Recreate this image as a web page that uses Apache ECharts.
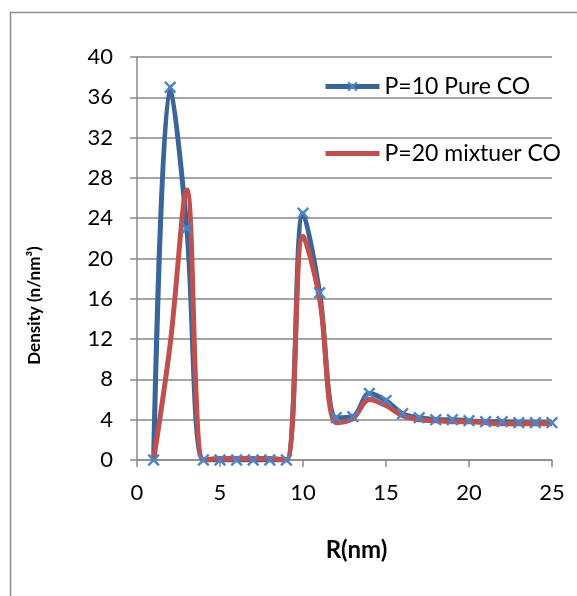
<!DOCTYPE html>
<html>
<head>
    <meta charset="utf-8"/>
    <title>Density vs R</title>
    <script src="https://cdn.jsdelivr.net/npm/echarts@6/dist/echarts.min.js"></script>
    <style>
        html, body { margin: 0; padding: 0; background: #fff; }
        #main { width: 577px; height: 596px; }
    </style>
</head>
<body>
<div id="main"></div>
<script>
    // data
    var rValues = [1, 2, 3, 4, 5, 6, 7, 8, 9, 10, 11, 12, 13, 14, 15, 16, 17, 18, 19, 20, 21, 22, 23, 24, 25];
    var pureCO = [0, 37, 23, 0, 0, 0, 0, 0, 0, 24.5, 16.6, 4.2, 4.3, 6.6, 5.9, 4.6, 4.2, 4.0, 4.0, 3.9, 3.8, 3.8, 3.7, 3.7, 3.7];
    var mixCO = [0, 11.5, 26.8, 0, 0.15, 0.15, 0.15, 0.15, 0, 22.2, 16.0, 3.7, 4.1, 6.0, 5.4, 4.4, 4.0, 3.9, 3.8, 3.8, 3.7, 3.6, 3.6, 3.6, 3.6];
    var seriesNames = ['P=10 Pure CO', 'P=20 mixtuer CO'];

    function pairs(ys) {
        return rValues.map(function (x, i) { return [x, ys[i]]; });
    }

    var font = 'Lato, "Open Sans", sans-serif';
    var gridColor = '#898989';
    // x marker: a plus turned 45 degrees
    var crossPath = 'path://M4.2,0L5.8,0L5.8,4.2L10,4.2L10,5.8L5.8,5.8L5.8,10L4.2,10L4.2,5.8L0,5.8L0,4.2L4.2,4.2Z';

    var chart = echarts.init(document.getElementById('main'), null, {renderer: 'canvas'});
    var option = {
        animation: false,
        textStyle: {fontFamily: font},
        graphic: [{
            type: 'rect',
            shape: {x: 10.5, y: 12.5, width: 700, height: 700},
            style: {fill: 'none', stroke: '#8c8c8c', lineWidth: 1.5},
            silent: true
        }],
        grid: {left: 137, right: 25, top: 57, bottom: 136},
        legend: {
            orient: 'vertical',
            left: 318,
            top: 70,
            itemGap: 44,
            itemWidth: 54,
            itemHeight: 15,
            lineStyle: {width: 5},
            textStyle: {fontFamily: font, fontSize: 23, color: '#000'},
            data: [
                {name: seriesNames[0]},
                {name: seriesNames[1], itemStyle: {opacity: 0}}
            ]
        },
        xAxis: {
            type: 'value',
            min: 0,
            max: 25,
            interval: 5,
            name: 'R(nm)',
            nameLocation: 'middle',
            nameGap: 78,
            nameTextStyle: {fontFamily: font, fontSize: 24, fontWeight: 'bold', color: '#000', padding: [0, 0, 0, 24]},
            axisLine: {show: true, lineStyle: {color: gridColor, width: 1.5}},
            axisTick: {show: true, length: 7, lineStyle: {color: gridColor, width: 1.5}},
            axisLabel: {fontFamily: font, fontSize: 22, color: '#000', margin: 22},
            splitLine: {show: false}
        },
        yAxis: {
            type: 'value',
            min: 0,
            max: 40,
            interval: 4,
            name: 'Density (n/nm³)',
            nameLocation: 'middle',
            nameGap: 94,
            nameTextStyle: {fontFamily: font, fontSize: 17, fontWeight: 'bold', color: '#000', padding: [0, 94, 0, 0]},
            axisLine: {show: true, lineStyle: {color: gridColor, width: 1.5}},
            axisTick: {show: true, length: 7, lineStyle: {color: gridColor, width: 1.5}},
            axisLabel: {fontFamily: font, fontSize: 22, color: '#000', margin: 24},
            splitLine: {show: true, lineStyle: {color: gridColor, width: 1.5}}
        },
        series: [{
            name: seriesNames[0],
            type: 'line',
            smooth: 0.35,
            data: pairs(pureCO),
            symbol: crossPath,
            symbolSize: 15,
            symbolRotate: 45,
            showAllSymbol: true,
            lineStyle: {color: '#3a6599', width: 5},
            itemStyle: {color: '#4f84c4'}
        }, {
            name: seriesNames[1],
            type: 'line',
            smooth: 0.35,
            data: pairs(mixCO),
            symbol: 'none',
            lineStyle: {color: '#c0504d', width: 5},
            itemStyle: {color: '#c0504d'}
        }]
    };
    chart.setOption(option);
</script>
</body>
</html>
